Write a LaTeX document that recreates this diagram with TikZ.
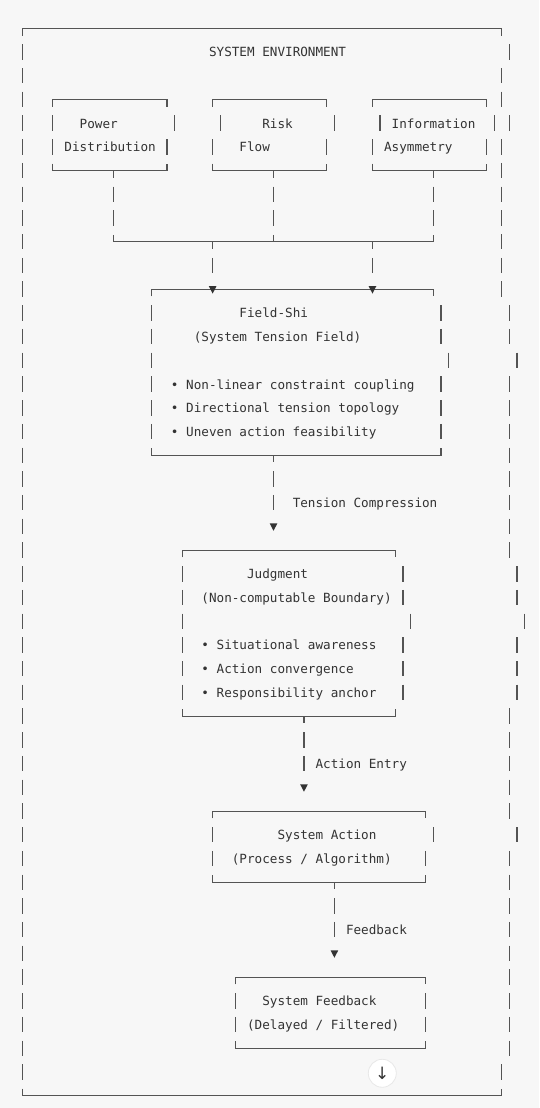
\documentclass[tikz,border=0pt]{standalone}
\usepackage{fontspec}
\setmonofont{DejaVu Sans Mono}
\newfontfamily\symfont{DejaVu Sans}
\definecolor{bgc}{HTML}{F7F7F7}
\definecolor{lc}{HTML}{545454}
\definecolor{tc}{HTML}{333333}
\newcommand\barsrow[2]{\foreach \cc in {#2}{\draw[ln] (\cc,#1-0.33) -- (\cc,#1+0.32);}}
\newcommand\boxtopline[3]{\draw[ln] (#2,#1+0.3) -- (#2,#1) -- (#3,#1) -- (#3,#1+0.3);}
\newcommand\boxbotline[3]{\draw[ln] (#2,#1-0.3) -- (#2,#1) -- (#3,#1) -- (#3,#1-0.3);}
\newcommand\tickdown[2]{\draw[ln] (#2,#1) -- (#2,#1+0.3);}
\newcommand\tri[2]{\fill[tc] (#2-0.5,#1-0.13) -- (#2+0.5,#1-0.13) -- (#2,#1+0.18) -- cycle;}
\begin{document}
\begin{tikzpicture}[x=7.61pt,y=-23.72pt,shift={(22.4pt,-28.4pt)},
  ln/.style={draw=lc,line width=1.2pt,line join=miter},
  txt/.style={font=\ttfamily\fontsize{12.64}{14}\selectfont,text=tc,inner sep=0pt,anchor=base west},
  circ/.style={circle,fill=white,draw=black!9,line width=0.8pt,minimum size=28pt,inner sep=0pt,text=tc,font=\symfont\fontsize{17}{17}\selectfont}]
\fill[bgc] (-22.4pt,28.4pt) rectangle ++(539pt,-1108pt);
\useasboundingbox (-22.4pt,28.4pt) rectangle ++(539pt,-1108pt);

% outer environment frame
\boxtopline{0}{0}{63}
\boxbotline{45}{0}{63}
\barsrow{1}{0,64}
\barsrow{2}{0,63}
\barsrow{3}{0,63}
\barsrow{4}{0,4,20,26,41,47,62,64}
\barsrow{5}{0,4,19,25,40,46,61,63}
\barsrow{6}{0,63}
\barsrow{7}{0,12,33,54,63}
\barsrow{8}{0,12,33,54,63}
\barsrow{9}{0,63}
\barsrow{10}{0,25,46,63}
\barsrow{11}{0,63}
\barsrow{12}{0,17,55,64}
\barsrow{13}{0,17,55,64}
\barsrow{14}{0,17,56,65}
\barsrow{15}{0,17,55,64}
\barsrow{16}{0,17,55,64}
\barsrow{17}{0,17,55,64}
\barsrow{18}{0,64}
\barsrow{19}{0,33,64}
\barsrow{20}{0,33,64}
\barsrow{21}{0,64}
\barsrow{22}{0,64}
\barsrow{23}{0,21,50,65}
\barsrow{24}{0,21,50,65}
\barsrow{25}{0,21,51,66}
\barsrow{26}{0,21,50,65}
\barsrow{27}{0,21,50,65}
\barsrow{28}{0,21,50,65}
\barsrow{29}{0,64}
\barsrow{30}{0,37,64}
\barsrow{31}{0,37,64}
\barsrow{32}{0,64}
\barsrow{33}{0,64}
\barsrow{34}{0,25,54,65}
\barsrow{35}{0,25,53,64}
\barsrow{36}{0,64}
\barsrow{37}{0,41,64}
\barsrow{38}{0,41,64}
\barsrow{39}{0,64}
\barsrow{40}{0,64}
\barsrow{41}{0,28,53,64}
\barsrow{42}{0,28,53,64}
\barsrow{43}{0,64}
\barsrow{44}{0,63}

% three source boxes
\boxtopline{3}{4}{19}
\boxtopline{3}{25}{40}
\boxtopline{3}{46}{61}
\boxbotline{6}{4}{19}   \tickdown{6}{12}
\boxbotline{6}{25}{40}  \tickdown{6}{33}
\boxbotline{6}{46}{61}  \tickdown{6}{54}
% merge line
\boxbotline{9}{12}{54}
\draw[ln] (33,9-0.3) -- (33,9);
\tickdown{9}{25}
\tickdown{9}{46}

% Field-Shi box
\boxtopline{11}{17}{54}
\tri{11}{25}
\tri{11}{46}
\boxbotline{18}{17}{55} \tickdown{18}{33}
\tri{21}{33}

% Judgment box
\boxtopline{22}{21}{49}
\boxbotline{29}{21}{49} \tickdown{29}{37}
\tri{32}{37}

% System Action box
\boxtopline{33}{25}{53}
\boxbotline{36}{25}{53} \tickdown{36}{41}
\tri{39}{41}

% System Feedback box
\boxtopline{40}{28}{53}
\boxbotline{43}{28}{53}

% texts
\node[txt] (env) at (25-0.5,1.205) {SYSTEM ENVIRONMENT};
\node[txt] (pw1) at (8-0.5,4.205) {Power};
\node[txt] (rk1) at (32-0.5,4.205) {Risk};
\node[txt] (in1) at (49-0.5,4.205) {Information};
\node[txt] (pw2) at (6-0.5,5.205) {Distribution};
\node[txt] (rk2) at (29-0.5,5.205) {Flow};
\node[txt] (in2) at (48-0.5,5.205) {Asymmetry};
\node[txt] (fs1) at (29-0.5,12.205) {Field-Shi};
\node[txt] (fs2) at (23-0.5,13.205) {(System Tension Field)};
\node[txt] (fs3) at (20-0.5,15.205) {• Non-linear constraint coupling};
\node[txt] (fs4) at (20-0.5,16.205) {• Directional tension topology};
\node[txt] (fs5) at (20-0.5,17.205) {• Uneven action feasibility};
\node[txt] (lb1) at (36-0.5,20.205) {Tension Compression};
\node[txt] (jd1) at (30-0.5,23.205) {Judgment};
\node[txt] (jd2) at (24-0.5,24.205) {(Non-computable Boundary)};
\node[txt] (jd3) at (24-0.5,26.205) {• Situational awareness};
\node[txt] (jd4) at (24-0.5,27.205) {• Action convergence};
\node[txt] (jd5) at (24-0.5,28.205) {• Responsibility anchor};
\node[txt] (lb2) at (39-0.5,31.205) {Action Entry};
\node[txt] (sa1) at (34-0.5,34.205) {System Action};
\node[txt] (sa2) at (28-0.5,35.205) {(Process / Algorithm)};
\node[txt] (lb3) at (43-0.5,38.205) {Feedback};
\node[txt] (sf1) at (32-0.5,41.205) {System Feedback};
\node[txt] (sf2) at (30-0.5,42.205) {(Delayed / Filtered)};

\node[circ] (down) at (47.29,44.05) {↓};
\end{tikzpicture}
\end{document}
